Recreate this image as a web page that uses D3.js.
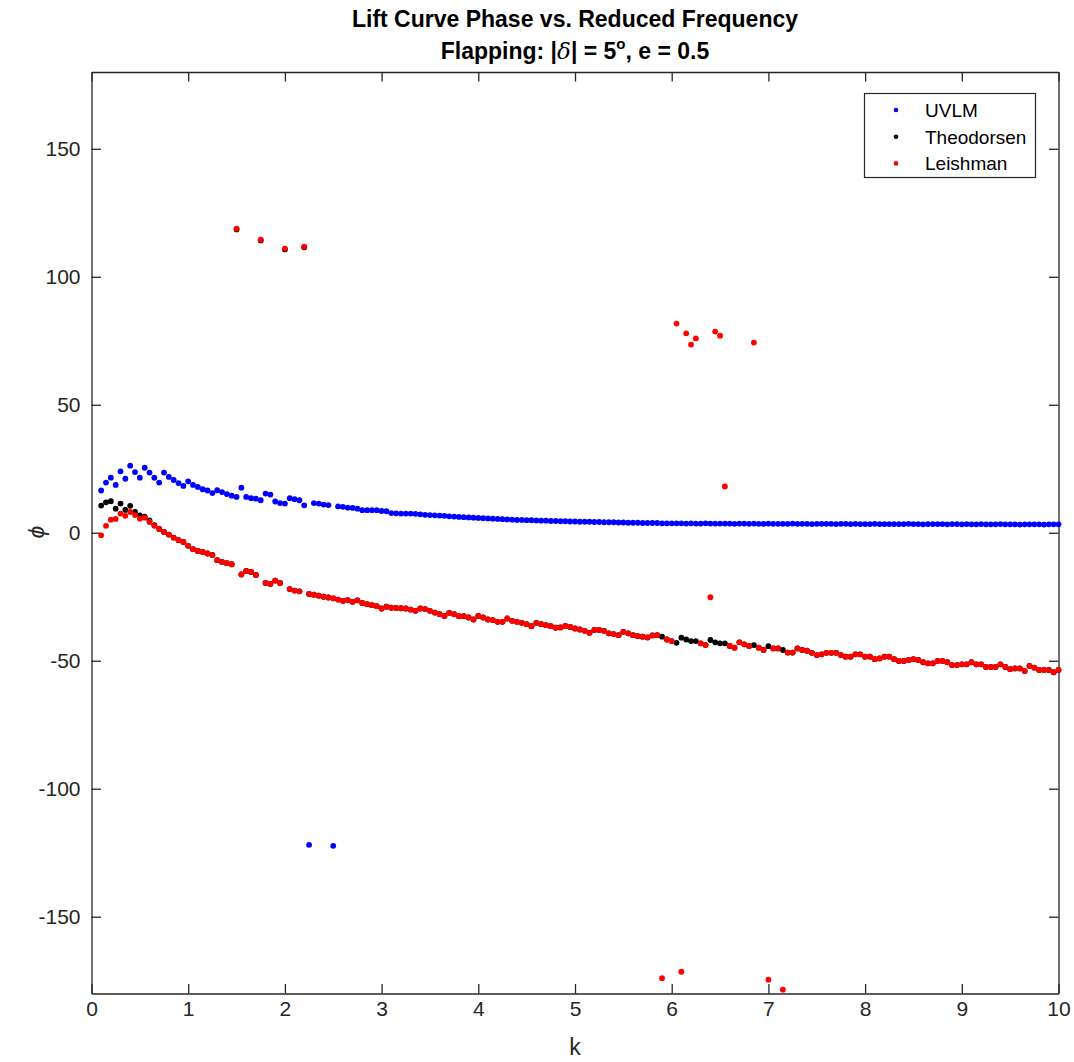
<!DOCTYPE html>
<html>
<head>
<meta charset="utf-8">
<script src="https://cdn.jsdelivr.net/npm/d3@7"></script>
<style>
  body { margin: 0; background: #fff; }
  svg text { font-family: "Liberation Sans", Arial, Helvetica, sans-serif; }
</style>
</head>
<body>
<svg id="chart" width="1074" height="1062"></svg>
<script>
// Reduced frequency grid: k = 0.10 ... 10.00 in steps of 0.05 (199 samples)
const kStart = 0.1, kStep = 0.05, kCount = 199;

// Lift phase (deg), UVLM solution
const uvlmPhase = [
  16.5, 19.6, 21.5, 18.7, 24.0, 21.1, 26.2, 23.7, 21.5, 25.4,
  23.5, 21.5, 19.6, 23.5, 21.8, 20.6, 19.4, 18.3, 20.1, 18.7,
  17.9, 17.0, 16.5, 15.5, 16.6, 15.9, 15.1, 14.5, 14.0, 17.6,
  14.0, 13.5, 13.3, 12.7, 15.3, 14.9, 12.2, 11.6, 11.4, 13.5,
  13.1, 12.7, 10.7, -121.9, 11.6, 11.4, 11.0, 10.8, -122.3, 10.3,
  10.1, 9.8, 9.7, 9.4, 8.8, 8.8, 8.8, 8.8, 8.5, 8.4,
  7.7, 7.6, 7.5, 7.5, 7.5, 7.4, 7.2, 7.0, 6.9, 6.8,
  6.7, 6.6, 6.4, 6.3, 6.2, 6.1, 6.0, 5.9, 5.8, 5.7,
  5.6, 5.5, 5.4, 5.3, 5.2, 5.1, 5.0, 5.0, 4.9, 4.9,
  4.8, 4.7, 4.7, 4.6, 4.6, 4.5, 4.5, 4.4, 4.4, 4.3,
  4.3, 4.3, 4.2, 4.2, 4.1, 4.1, 4.1, 4.0, 4.0, 3.9,
  3.9, 3.9, 3.8, 3.8, 3.8, 3.8, 3.7, 3.7, 3.7, 3.7,
  3.7, 3.6, 3.7, 3.6, 3.6, 3.7, 3.6, 3.6, 3.6, 3.6,
  3.6, 3.5, 3.6, 3.6, 3.5, 3.6, 3.5, 3.5, 3.6, 3.5,
  3.5, 3.5, 3.5, 3.6, 3.5, 3.5, 3.5, 3.4, 3.5, 3.5,
  3.5, 3.5, 3.4, 3.5, 3.5, 3.4, 3.5, 3.4, 3.4, 3.4,
  3.5, 3.4, 3.4, 3.4, 3.4, 3.4, 3.4, 3.5, 3.4, 3.4,
  3.3, 3.4, 3.4, 3.4, 3.4, 3.3, 3.4, 3.4, 3.3, 3.4,
  3.3, 3.3, 3.4, 3.3, 3.3, 3.3, 3.4, 3.3, 3.3, 3.3,
  3.2, 3.3, 3.3, 3.3, 3.3, 3.2, 3.3, 3.3, 3.3
];

// Lift phase (deg), Theodorsen function
const theodorsenPhase = [
  10.6, 11.9, 12.3, 9.4, 11.4, 8.9, 10.5, 8.1, 6.8, 6.3,
  4.8, 3.0, 1.5, 0.3, -0.7, -1.9, -2.9, -3.6, -5.1, -6.4,
  -7.1, -7.5, -8.1, -8.7, -10.7, -11.4, -11.9, -12.3, 118.5, -16.3,
  -14.9, -15.3, -16.5, 114.2, -19.6, -20.0, -18.7, -19.6, 110.7, -22.0,
  -22.6, -22.9, 111.5, -23.9, -24.2, -24.6, -25.0, -25.3, -25.6, -26.1,
  -26.6, -26.3, -27.0, -26.4, -27.4, -27.9, -28.3, -28.7, -29.6, -28.9,
  -29.3, -29.4, -29.5, -29.6, -30.0, -30.5, -29.6, -29.8, -30.5, -31.2,
  -31.8, -32.5, -31.3, -31.8, -32.6, -32.6, -33.1, -33.9, -32.5, -33.1,
  -33.9, -34.1, -34.8, -34.8, -33.5, -34.4, -34.8, -35.2, -35.7, -36.5,
  -35.2, -35.7, -36.1, -36.5, -37.1, -37.0, -36.4, -36.8, -37.4, -37.8,
  -38.3, -39.1, -38.0, -38.0, -38.3, -39.3, -39.6, -40.0, -38.7, -39.3,
  -40.0, -40.4, -40.6, -40.9, -40.1, -40.0, -40.6, -41.7, -42.3, -43.0,
  -41.0, -41.7, -42.3, -42.3, -43.2, -43.9, -41.9, -42.8, -43.2, -43.2,
  -44.2, -44.9, -42.8, -43.6, -44.2, -43.9, -44.9, -45.8, -44.3, -45.2,
  -45.2, -45.8, -46.8, -46.8, -45.2, -45.8, -46.1, -46.9, -47.8, -47.5,
  -46.9, -46.9, -46.9, -47.8, -48.4, -48.4, -47.5, -47.5, -48.4, -48.4,
  -49.4, -49.1, -48.4, -48.4, -49.4, -50.1, -50.1, -49.7, -49.4, -49.7,
  -50.6, -51.0, -51.0, -50.1, -50.1, -50.6, -51.7, -51.7, -51.4, -51.4,
  -50.6, -51.4, -51.4, -52.4, -52.4, -52.4, -51.4, -52.4, -53.3, -53.0,
  -53.0, -54.0, -52.0, -52.7, -53.6, -53.6, -53.6, -54.5, -53.6
];

// Lift phase (deg), Leishman indicial approximation
const leishmanPhase = [
  -1.0, 2.7, 5.1, 5.4, 7.5, 6.6, 8.1, 6.9, 5.5, 5.9,
  4.2, 2.7, 1.5, 0.3, -0.7, -1.9, -2.9, -3.6, -5.1, -6.4,
  -7.1, -7.5, -8.1, -8.7, -10.7, -11.4, -11.9, -12.3, 118.8, -16.3,
  -14.9, -15.3, -16.5, 114.5, -19.6, -20.0, -18.7, -19.6, 111.0, -22.0,
  -22.6, -22.9, 111.8, -23.9, -24.2, -24.6, -25.0, -25.3, -25.6, -26.1,
  -26.6, -26.3, -27.0, -26.4, -27.4, -27.9, -28.3, -28.7, -29.6, -28.9,
  -29.3, -29.4, -29.5, -29.6, -30.0, -30.5, -29.6, -29.8, -30.5, -31.2,
  -31.8, -32.5, -31.3, -31.8, -32.6, -32.6, -33.1, -33.9, -32.5, -33.1,
  -33.9, -34.1, -34.8, -34.8, -33.5, -34.4, -34.8, -35.2, -35.7, -36.5,
  -35.2, -35.7, -36.1, -36.5, -37.1, -37.0, -36.4, -36.8, -37.4, -37.8,
  -38.3, -39.1, -38.0, -38.0, -38.3, -39.3, -39.6, -40.0, -38.7, -39.3,
  -40.0, -40.4, -40.6, -40.9, -40.1, -40.0, -174.0, -41.7, -42.3, 81.7,
  -171.5, 77.9, 73.5, 75.9, -43.2, -43.9, -25.2, 78.6, 77.0, 18.1,
  -44.2, -44.9, -42.8, -43.6, -44.2, 74.3, -44.9, -45.8, -174.6, -45.2,
  -45.2, -178.5, -46.8, -46.8, -45.2, -45.8, -46.1, -46.9, -47.8, -47.5,
  -46.9, -46.9, -46.9, -47.8, -48.4, -48.4, -47.5, -47.5, -48.4, -48.4,
  -49.4, -49.1, -48.4, -48.4, -49.4, -50.1, -50.1, -49.7, -49.4, -49.7,
  -50.6, -51.0, -51.0, -50.1, -50.1, -50.6, -51.7, -51.7, -51.4, -51.4,
  -50.6, -51.4, -51.4, -52.4, -52.4, -52.4, -51.4, -52.4, -53.3, -53.0,
  -53.0, -54.0, -52.0, -52.7, -53.6, -53.6, -53.6, -54.5, -53.6
];

const seriesNames = ["UVLM", "Theodorsen", "Leishman"];
const seriesColors = ["#0000ff", "#000000", "#ff0000"];
const xTicks = [0, 1, 2, 3, 4, 5, 6, 7, 8, 9, 10];
const yTicks = [-150, -100, -50, 0, 50, 100, 150];

const kValues = d3.range(kCount).map(i => +(kStart + kStep * i).toFixed(2));

const svg = d3.select("#chart");
const axisColor = "#262626";
const plot = { left: 91.5, right: 1058.5, top: 72, bottom: 993.5 };

const x = d3.scaleLinear().domain([0, 10]).range([plot.left, plot.right]);
const y = d3.scaleLinear().domain([-180, 180]).range([plot.bottom, plot.top]);

svg.append("rect").attr("width", 1074).attr("height", 1062).attr("fill", "#fff");

const tickLen = 9.5;
const plainNumber = d => String(d);   // ASCII hyphen for negatives
function styleAxis(g, showLabels) {
  g.attr("font-family", null).attr("font-size", null);
  g.select(".domain").attr("stroke", axisColor).attr("stroke-width", 1.3);
  g.selectAll(".tick line").attr("stroke", axisColor).attr("stroke-width", 1.3);
  g.selectAll(".tick text")
    .attr("fill", axisColor)
    .style("font-size", "21px")
    .style("display", showLabels ? null : "none");
}

svg.append("g")
  .attr("transform", `translate(0,${plot.bottom})`)
  .call(d3.axisBottom(x).tickValues(xTicks).tickFormat(plainNumber)
    .tickSizeInner(-tickLen).tickSizeOuter(0).tickPadding(8))
  .call(g => styleAxis(g, true));

svg.append("g")
  .attr("transform", `translate(0,${plot.top})`)
  .call(d3.axisTop(x).tickValues(xTicks).tickSizeInner(-tickLen).tickSizeOuter(0))
  .call(g => styleAxis(g, false));

svg.append("g")
  .attr("transform", `translate(${plot.left},0)`)
  .call(d3.axisLeft(y).tickValues(yTicks).tickFormat(plainNumber)
    .tickSizeInner(-tickLen).tickSizeOuter(0).tickPadding(11))
  .call(g => styleAxis(g, true));

svg.append("g")
  .attr("transform", `translate(${plot.right},0)`)
  .call(d3.axisRight(y).tickValues(yTicks).tickSizeInner(-tickLen).tickSizeOuter(0))
  .call(g => styleAxis(g, false));

// Scatter markers, drawn in legend order so Leishman sits on top
const allSeries = [uvlmPhase, theodorsenPhase, leishmanPhase];
allSeries.forEach((vals, si) => {
  svg.append("g")
    .attr("class", "series-" + seriesNames[si])
    .selectAll("circle")
    .data(vals.map((v, i) => ({ k: kValues[i], phi: v })))
    .join("circle")
    .attr("cx", d => x(d.k))
    .attr("cy", d => y(d.phi))
    .attr("r", 2.9)
    .attr("fill", seriesColors[si]);
});

// Title
const title = svg.append("g").attr("text-anchor", "middle").attr("fill", "#000")
  .style("font-weight", "bold").style("font-size", "23px");
title.append("text").attr("x", 575).attr("y", 27)
  .text("Lift Curve Phase vs. Reduced Frequency");
const t2 = title.append("text").attr("x", 575).attr("y", 59);
t2.append("tspan").text("Flapping: |");
t2.append("tspan").style("font-style", "italic").style("font-weight", "normal")
  .style("font-family", "'DejaVu Serif', serif").text("δ");
t2.append("tspan").text("| = 5");
t2.append("tspan").attr("dy", -10).style("font-size", "15px").text("o");
t2.append("tspan").attr("dy", 10).text(", e = 0.5");

// Axis labels
svg.append("text").attr("x", 575).attr("y", 1055)
  .attr("text-anchor", "middle").attr("fill", axisColor)
  .style("font-size", "23px").text("k");
svg.append("text")
  .attr("transform", "translate(44,532) rotate(-90)")
  .attr("text-anchor", "middle").attr("fill", axisColor)
  .style("font-size", "23px").style("font-style", "italic").text("ϕ");

// Legend
const legend = svg.append("g");
legend.append("rect")
  .attr("x", 864.5).attr("y", 93.5).attr("width", 171).attr("height", 84)
  .attr("fill", "#fff").attr("stroke", axisColor).attr("stroke-width", 1.2);
seriesNames.forEach((name, i) => {
  const cy = 110 + i * 26.7;
  legend.append("circle").attr("cx", 896).attr("cy", cy).attr("r", 2.3)
    .attr("fill", seriesColors[i]);
  legend.append("text").attr("x", 925).attr("y", cy + 7)
    .attr("fill", "#000").style("font-size", "19px").text(name);
});
</script>
</body>
</html>
